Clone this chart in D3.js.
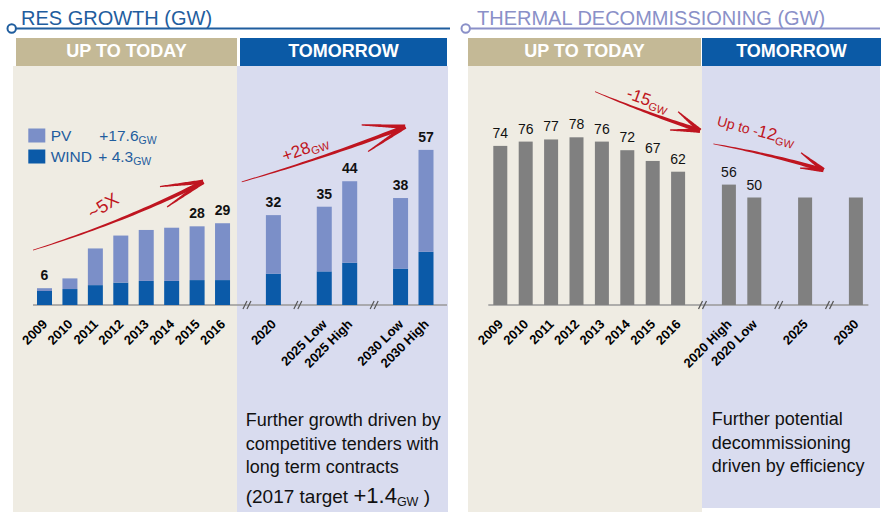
<!DOCTYPE html>
<html><head><meta charset="utf-8">
<script src="https://cdn.jsdelivr.net/npm/d3@7"></script>
<style>body{margin:0;background:#fff}svg{display:block;font-family:"Liberation Sans",Arial,sans-serif}</style>
</head><body><svg id="c" width="890" height="515"></svg>
<script>
// ---------- data ----------
const RES_CATEGORIES = ["2009","2010","2011","2012","2013","2014","2015","2016","2020","2025 Low","2025 High","2030 Low","2030 High"];
const RES_WIND = [5.0,5.7,7.1,8.0,8.6,8.6,8.9,8.9,11.2,12.0,15.1,13.0,19.0];
const RES_PV   = [1.0,3.8,13.1,16.8,18.2,19.0,19.2,20.3,20.9,23.1,29.1,25.2,36.4];
const RES_LABELS = ["6","","","","","","28","29","32","35","44","38","57"];
const RES_BREAK_BEFORE = ["2020","2025 Low","2030 Low"];

const TH_CATEGORIES = ["2009","2010","2011","2012","2013","2014","2015","2016","2020 High","2020 Low","2025","2030"];
const TH_VALUES = [74,76,77,78,76,72,67,62,56,50,50,50];
const TH_LABELS = ["74","76","77","78","76","72","67","62","56","50","",""];
const TH_BREAK_BEFORE = ["2020 High","2025","2030"];

const LEGEND = [{key:"pv", name:"PV", value:"+17.6"},{key:"wind", name:"WIND", value:"+ 4.3"}];

// ---------- styles ----------
const C = {pv:"#7b8fc8", wind:"#0b5aa8", gray:"#808080", red:"#bf1520",
  tan:"#c4b996", blue:"#0b5aa6", beige:"#efece3", lav:"#d9dcef",
  titleL:"#1f5d9e", titleR:"#8a90c8", axis:"#999"};

const svg = d3.select("#c");
const FS = '"Liberation Sans",Arial,sans-serif';

function slots(cats, breaks){const o=[];cats.forEach(c=>{if(breaks.includes(c))o.push("//"+c);o.push(c);});return o;}

// ---------- panel frames ----------
function frame(p){
  svg.append("rect").attr("x",p.bg[0]).attr("y",66).attr("width",p.bg[1]-p.bg[0]).attr("height",p.bgBottom[0]-66).attr("fill",C.beige);
  svg.append("rect").attr("x",p.bg[1]).attr("y",66).attr("width",p.bg[2]-p.bg[1]).attr("height",p.bgBottom[1]-66).attr("fill",C.lav);
  svg.append("rect").attr("x",p.band1[0]).attr("y",38).attr("width",p.band1[1]-p.band1[0]).attr("height",28).attr("fill",C.tan);
  svg.append("rect").attr("x",p.band2[0]).attr("y",38).attr("width",p.band2[1]-p.band2[0]).attr("height",28).attr("fill",C.blue);
  svg.append("text").attr("x",(p.band1[0]+p.band1[1])/2).attr("y",57).attr("text-anchor","middle")
    .attr("fill","#fff").attr("font-weight","bold").attr("font-size",18).text("UP TO TODAY");
  svg.append("text").attr("x",(p.band2[0]+p.band2[1])/2).attr("y",57).attr("text-anchor","middle")
    .attr("fill","#fff").attr("font-weight","bold").attr("font-size",18).text("TOMORROW");
  svg.append("line").attr("x1",p.circle+4).attr("x2",p.lineEnd).attr("y1",28.5).attr("y2",28.5).attr("stroke",p.color).attr("stroke-width",2);
  svg.append("circle").attr("cx",p.circle).attr("cy",28.5).attr("r",4.2).attr("fill","#fff").attr("stroke",p.color).attr("stroke-width",2);
  svg.append("text").attr("x",p.titleX).attr("y",25).attr("fill",p.color).attr("font-size",20).text(p.title);
}
frame({bg:[13,237,448],bgBottom:[512,512],band1:[16,237],band2:[240,447],circle:11.7,lineEnd:450,color:C.titleL,titleX:21,title:"RES GROWTH (GW)"});
frame({bg:[468,702,880],bgBottom:[512,508],band1:[468,701],band2:[702,881],circle:465.7,lineEnd:880,color:C.titleR,titleX:477,title:"THERMAL DECOMMISSIONING (GW)"});

// ---------- scales ----------
const BASE = 305;
const xRes = d3.scalePoint().domain(slots(RES_CATEGORIES,RES_BREAK_BEFORE)).range([44.5,426]);
const yRes = d3.scaleLinear().domain([0,60]).range([BASE,BASE-168]);
const xTh = d3.scalePoint().domain(slots(TH_CATEGORIES,TH_BREAK_BEFORE)).range([500.3,855.9]);
const yTh = d3.scaleLinear().domain([0,80]).range([BASE,BASE-172]);

// ---------- axes ----------
function axis(x, x0, x1){
  svg.append("line").attr("x1",x0).attr("x2",x1).attr("y1",BASE).attr("y2",BASE).attr("stroke",C.axis).attr("stroke-width",1.5);
  const g = svg.append("g").attr("transform",`translate(0,${BASE})`)
    .call(d3.axisBottom(x).tickSize(0).tickFormat(d=>d.startsWith("//")?"":d));
  g.select(".domain").remove();
  g.selectAll("text").attr("x",0).attr("y",0).attr("dy",null)
    .attr("transform","translate(3,20) rotate(-45)").style("text-anchor","end")
    .attr("font-family",FS).attr("font-size",13).attr("font-weight","bold").attr("fill","#000");
  // break marks
  x.domain().filter(d=>d.startsWith("//")).forEach(d=>{
    const cx = x(d);
    [-4,0].forEach(o=>svg.append("line").attr("x1",cx+o-1).attr("y1",BASE+4).attr("x2",cx+o+3).attr("y2",BASE-4)
      .attr("stroke","#555").attr("stroke-width",1.2));
  });
}
const resFirst = xRes(RES_CATEGORIES[0]), resLast = xRes(RES_CATEGORIES[RES_CATEGORIES.length-1]);
axis(xRes, resFirst-11.5, resLast+21);
const thFirst = xTh(TH_CATEGORIES[0]), thLast = xTh(TH_CATEGORIES[TH_CATEGORIES.length-1]);
axis(xTh, thFirst-12, thLast+12.5);

// ---------- RES bars ----------
const resRows = RES_CATEGORIES.map((c,i)=>({cat:c,wind:RES_WIND[i],pv:RES_PV[i],label:RES_LABELS[i]}));
const stack = d3.stack().keys(["wind","pv"])(resRows);
const BW = 15;
svg.append("g").selectAll("g").data(stack).join("g").attr("fill",s=>C[s.key])
  .selectAll("rect").data(s=>s).join("rect")
  .attr("x",d=>xRes(d.data.cat)-BW/2).attr("width",BW)
  .attr("y",d=>yRes(d[1])).attr("height",d=>yRes(d[0])-yRes(d[1]));
svg.append("g").selectAll("text").data(resRows.filter(d=>d.label)).join("text")
  .attr("x",d=>xRes(d.cat)).attr("y",d=>yRes(d.wind+d.pv)-8).attr("text-anchor","middle")
  .attr("font-size",14).attr("font-weight","bold").attr("fill","#111").text(d=>d.label);

// ---------- Thermal bars ----------
const thRows = TH_CATEGORIES.map((c,i)=>({cat:c,v:TH_VALUES[i],label:TH_LABELS[i]}));
const TW = 14;
svg.append("g").attr("fill",C.gray).selectAll("rect").data(thRows).join("rect")
  .attr("x",d=>xTh(d.cat)-TW/2).attr("width",TW).attr("y",d=>yTh(d.v)).attr("height",d=>yTh(0)-yTh(d.v));
svg.append("g").selectAll("text").data(thRows.filter(d=>d.label)).join("text")
  .attr("x",d=>xTh(d.cat)).attr("y",d=>yTh(d.v)-8).attr("text-anchor","middle")
  .attr("font-size",14).attr("fill","#111").text(d=>d.label);

// ---------- legend ----------
const lg = svg.append("g").attr("fill",C.titleL).attr("font-size",15.5);
LEGEND.forEach((l,i)=>{
  const y = 128.5 + i*21;
  lg.append("rect").attr("x",28.3).attr("y",y).attr("width",17).attr("height",14).attr("fill",C[l.key]);
  lg.append("text").attr("x",50.7).attr("y",y+12.5).text(l.name);
  const t = lg.append("text").attr("x",i===0?99.3:98.3).attr("y",y+12.5);
  t.append("tspan").text(l.value);
  t.append("tspan").attr("font-size",10.5).attr("dy",3).text("GW");
});

// ---------- annotation arrows (in data coordinates) ----------
function idx(x){const d=x.domain();return i=>x(d[0])+i*x.step();}
function taper(pts,w0,w1){
  const [p0,c,p1]=pts, n=30, L=[], R=[];
  for(let k=0;k<=n;k++){
    const t=k/n, mt=1-t;
    const x=mt*mt*p0[0]+2*mt*t*c[0]+t*t*p1[0], y=mt*mt*p0[1]+2*mt*t*c[1]+t*t*p1[1];
    const dx=2*mt*(c[0]-p0[0])+2*t*(p1[0]-c[0]), dy=2*mt*(c[1]-p0[1])+2*t*(p1[1]-c[1]);
    const len=Math.hypot(dx,dy)||1, nx=-dy/len, ny=dx/len, w=(w0+(w1-w0)*t)/2;
    L.push([x+nx*w,y+ny*w]); R.push([x-nx*w,y-ny*w]);
  }
  return "M"+L.map(p=>p.join(",")).join("L")+"L"+R.reverse().map(p=>p.join(",")).join("L")+"Z";
}
function arrow(x,y,a){
  const xi=idx(x), P=p=>[xi(p[0]),y(p[1])];
  const s=P(a.start), c=P(a.ctrl), t=P(a.tip);
  const g=svg.append("g").attr("fill",C.red);
  g.append("path").attr("d",taper([s,c,t],0.8,4.2));
  a.barbs.forEach(b=>{const bp=P(b);g.append("path").attr("d",taper([bp,[(bp[0]+t[0])/2,(bp[1]+t[1])/2],t],1.2,4.5));});
}
function note(x,y,n){
  const xi=idx(x);
  const t=svg.append("text").attr("transform",`translate(${xi(n.at[0])},${y(n.at[1])}) rotate(${n.rot})`)
    .attr("text-anchor","middle").attr("dy","0.35em").attr("fill",C.red).attr("font-size",n.size);
  n.parts.forEach(p=>{const s=t.append("tspan").text(p[0]);if(p[1])s.attr("font-size",p[1]);if(p[2])s.attr("dy",p[2]);});
}
arrow(xRes,yRes,{start:[-0.45,19.6],ctrl:[3.2,30],tip:[6.24,44],barbs:[[4.54,42.3],[4.82,35]]});
arrow(xRes,yRes,{start:[7.755,44],ctrl:[11,52.5],tip:[14.18,63.7],barbs:[[12.47,64.3],[12.72,54.8]]});
arrow(xTh,yTh,{start:[3.73,99.2],ctrl:[5.8,89],tip:[7.86,81.1],barbs:[[7.0,89.9],[6.68,81.4]]});
arrow(xTh,yTh,{start:[8.39,74.9],ctrl:[10.5,70.5],tip:[12.72,62.8],barbs:[[11.84,70.8],[11.8,63.7]]});
note(xRes,yRes,{at:[2.3,35.4],rot:-33,size:18,parts:[["~5X"]]});
note(xRes,yRes,{at:[10.24,56],rot:-20,size:17,parts:[["+28"],["GW",11,3]]});
note(xTh,yTh,{at:[5.81,95.5],rot:20,size:17,parts:[["-15"],["GW",11,3]]});
note(xTh,yTh,{at:[10.07,81],rot:15,size:14,parts:[["Up to -"],["12",17],["GW",11,3]]});

// ---------- text boxes ----------
const tb = svg.append("g").attr("fill","#111").attr("font-size",18);
[["Further growth driven by",426],["competitive  tenders  with",450],["long term contracts",473]].forEach(l=>
  tb.append("text").attr("x",245.7).attr("y",l[1]).text(l[0]));
const t4 = tb.append("text").attr("x",245.7).attr("y",503);
t4.append("tspan").attr("font-size",19).text("(2017 target ");
t4.append("tspan").attr("font-size",22).text("+1.4");
t4.append("tspan").attr("font-size",12.5).attr("dy",3).text("GW");
t4.append("tspan").attr("font-size",19).attr("dy",-3).text(" )");
[["Further potential",425],["decommissioning",448.5],["driven by efficiency",472]].forEach(l=>
  tb.append("text").attr("x",711.7).attr("y",l[1]).text(l[0]));
</script></body></html>
